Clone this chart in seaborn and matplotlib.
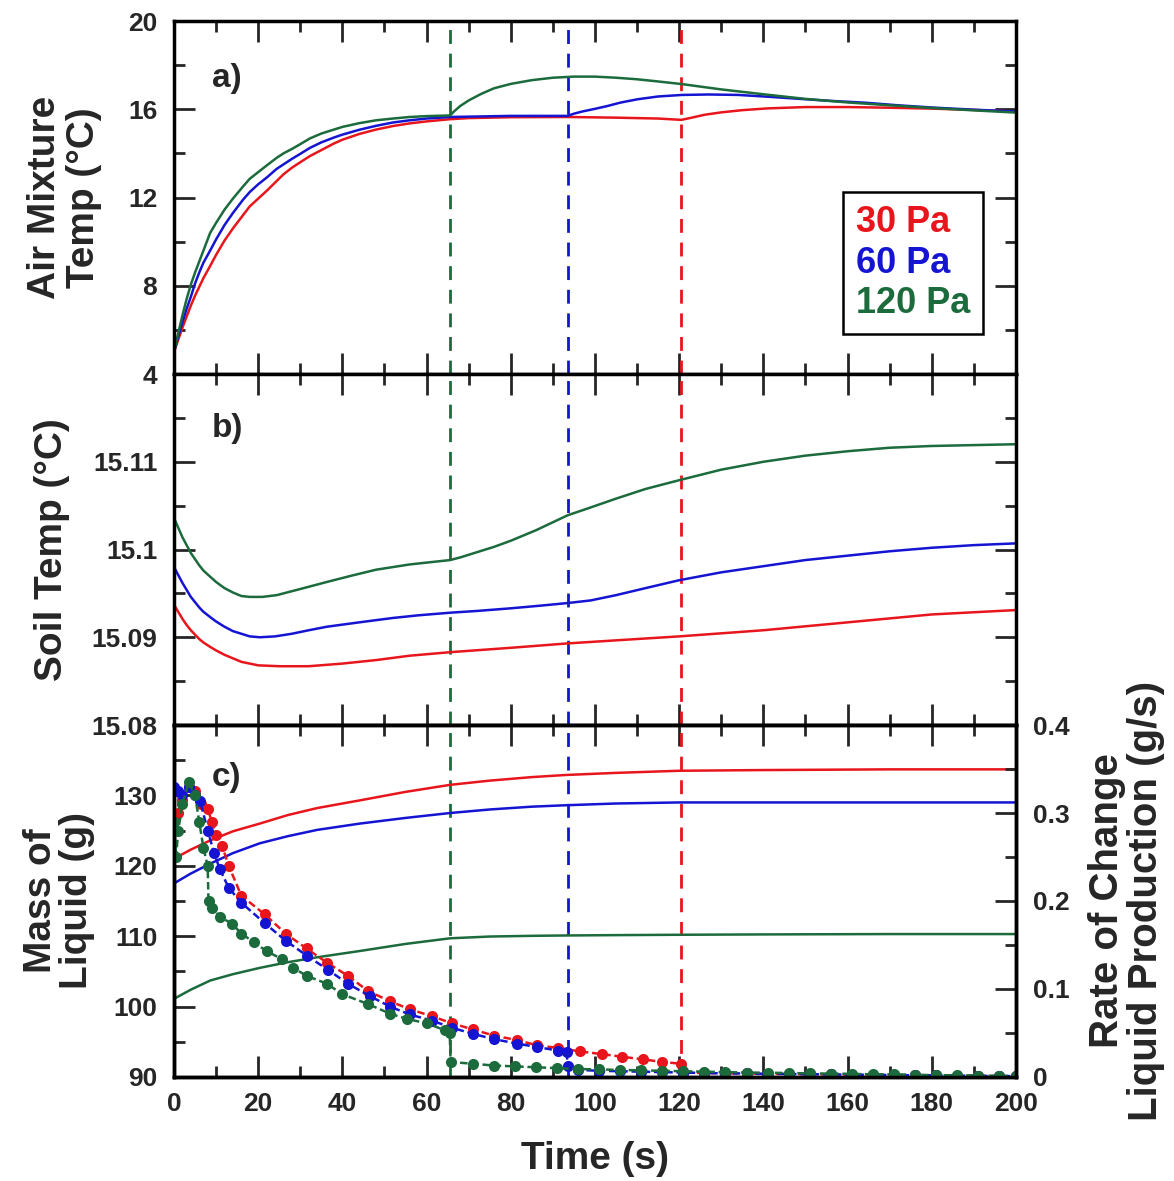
import numpy as np
import pandas as pd
import seaborn as sns
import matplotlib.pyplot as plt
from matplotlib.ticker import MultipleLocator, FuncFormatter
from matplotlib.lines import Line2D

# ---- data ----
pressures = ["30 Pa", "60 Pa", "120 Pa"]
colors = ["#e8161c", "#1414d2", "#1b6b3c"]
switch_times = [120.5, 93.5, 65.6]  # dashed markers for each run

# a) air mixture temperature
t_air_30 = [0, 1, 2, 3, 4, 5, 6, 7, 8.6, 10, 12, 14, 16.4, 18, 20, 22, 24.4, 26, 28, 30, 32.3, 35,
            38, 40, 44, 48, 52, 56, 60, 65.6, 70, 80, 93.5, 105, 115, 120.5, 123, 126, 130, 135,
            141, 150, 160, 170, 180, 190, 200]
air_30 = [5.0, 5.55, 6.1, 6.6, 7.1, 7.55, 7.95, 8.35, 8.9, 9.4, 10.05, 10.6, 11.2, 11.6, 11.95,
          12.3, 12.75, 13.05, 13.35, 13.6, 13.88, 14.15, 14.45, 14.62, 14.88, 15.08, 15.24, 15.36,
          15.45, 15.55, 15.6, 15.64, 15.65, 15.62, 15.58, 15.52, 15.62, 15.75, 15.86, 15.96,
          16.04, 16.1, 16.1, 16.07, 16.03, 15.97, 15.9]
t_air_60 = [0, 1, 2, 3, 4, 5, 6, 7, 8.6, 10, 12, 14, 16.4, 18, 20, 22, 24.4, 26, 28, 30, 32.3, 35,
            38, 40, 44, 48, 52, 56, 60, 65.6, 80, 93.5, 95, 97, 100, 103, 106, 110, 115, 120.7,
            127, 134, 141, 148, 156, 164, 172, 180, 190, 200]
air_60 = [5.0, 5.7, 6.35, 6.95, 7.5, 8.1, 8.6, 9.05, 9.6, 10.1, 10.75, 11.3, 11.9, 12.25, 12.6,
          12.9, 13.3, 13.5, 13.75, 13.98, 14.25, 14.5, 14.72, 14.85, 15.07, 15.25, 15.4, 15.5,
          15.58, 15.65, 15.7, 15.7, 15.8, 15.9, 16.02, 16.15, 16.3, 16.45, 16.58, 16.65, 16.67,
          16.65, 16.57, 16.48, 16.38, 16.3, 16.18, 16.08, 15.98, 15.9]
t_air_120 = [0, 1, 2, 3, 4, 5, 6, 7, 8.6, 10, 12, 14, 16.4, 18, 20, 22, 24.4, 26, 28, 30, 32.3, 35,
             38, 40, 44, 48, 52, 56, 60, 65.6, 66.5, 68, 70, 73, 76, 80, 85, 90, 95, 100, 105,
             110, 115, 120.7, 130, 140, 150, 160, 170, 180, 190, 200]
air_120 = [5.0, 5.85, 6.65, 7.4, 8.05, 8.6, 9.1, 9.6, 10.4, 10.85, 11.45, 11.95, 12.5, 12.85,
           13.15, 13.45, 13.8, 14.0, 14.2, 14.42, 14.68, 14.9, 15.08, 15.2, 15.37, 15.5, 15.58,
           15.65, 15.69, 15.72, 15.9, 16.15, 16.4, 16.7, 16.95, 17.15, 17.32, 17.43, 17.48,
           17.48, 17.43, 17.36, 17.26, 17.14, 16.9, 16.68, 16.47, 16.31, 16.18, 16.06, 15.95,
           15.85]

# b) soil temperature
t_soil_30 = [0, 1, 2, 3, 4, 5, 6, 7, 8.6, 10, 12, 14, 16, 18, 20, 25, 32, 40, 48, 56, 65.6, 80,
             93.5, 110, 120, 140, 160, 180, 200]
soil_30 = [15.0937, 15.0929, 15.0921, 15.0914, 15.0908, 15.0903, 15.0898, 15.0894, 15.0889,
           15.0885, 15.0880, 15.0876, 15.0872, 15.0870, 15.0868, 15.0867, 15.0867, 15.0870,
           15.0874, 15.0879, 15.0883, 15.0888, 15.0893, 15.0898, 15.0901, 15.0908, 15.0917,
           15.0926, 15.0931]
t_soil_60 = [0, 1, 2, 3, 4, 5, 6, 7, 8.6, 10, 12, 14, 16, 18, 20.4, 24, 28, 32, 36.3, 44, 52, 58,
             65.6, 72, 80, 87, 93.5, 99, 105, 112, 120, 130, 140, 150, 160, 170, 180, 190, 200]
soil_60 = [15.0980, 15.0971, 15.0962, 15.0954, 15.0946, 15.0940, 15.0934, 15.0929, 15.0923,
           15.0918, 15.0912, 15.0907, 15.0904, 15.0901, 15.0900, 15.0901, 15.0904, 15.0908,
           15.0912, 15.0917, 15.0922, 15.0925, 15.0928, 15.0930, 15.0933, 15.0936, 15.0939,
           15.0942, 15.0948, 15.0956, 15.0965, 15.0974, 15.0981, 15.0988, 15.0993, 15.0998,
           15.1002, 15.1005, 15.1007]
t_soil_120 = [0, 1, 2, 3, 4, 5, 6, 7, 8.6, 10, 12, 14, 16, 18, 21, 24.4, 30, 36.3, 42, 48, 56,
              65.6, 68, 72, 76, 80, 86, 93.5, 99, 105, 112, 120, 130, 140, 150, 160, 170, 180,
              190, 200]
soil_120 = [15.1036, 15.1025, 15.1014, 15.1005, 15.0996, 15.0989, 15.0982, 15.0976, 15.0969,
            15.0963, 15.0956, 15.0951, 15.0947, 15.0946, 15.0946, 15.0948, 15.0955, 15.0963,
            15.0970, 15.0977, 15.0983, 15.0988, 15.0991, 15.0997, 15.1003, 15.1010, 15.1022,
            15.1039, 15.1048, 15.1058, 15.1069, 15.1079, 15.1091, 15.1100, 15.1107, 15.1112,
            15.1116, 15.1118, 15.1119, 15.1120]

# c) mass of liquid (left axis)
t_mass = [0, 4, 8.6, 14, 20.4, 27, 34, 44.2, 55, 65.6, 75, 85, 93, 105, 120, 140, 170, 200]
mass_30 = [121.0, 122.3, 123.6, 124.9, 126.0, 127.2, 128.2, 129.3, 130.5, 131.5, 132.1, 132.6,
           132.9, 133.2, 133.5, 133.6, 133.7, 133.7]
mass_60 = [117.5, 118.9, 120.3, 121.8, 123.2, 124.2, 125.1, 126.0, 126.8, 127.5, 128.0, 128.4,
           128.6, 128.85, 129.0, 129.0, 129.0, 129.0]
mass_120 = [101.1, 102.4, 103.7, 104.6, 105.5, 106.3, 107.0, 107.9, 108.9, 109.7, 109.95, 110.05,
            110.1, 110.15, 110.2, 110.25, 110.3, 110.3]

# c) rate of liquid production (right axis)
t_rate_30 = [0, 1, 2, 3.5, 5, 6.5, 8, 9, 10, 11.4, 13, 16, 21.5, 26.5, 31.5, 36.3, 41.3, 46, 51.3,
             56, 61.3, 66, 71, 76, 81.4, 86.2, 91.2, 96.4, 101.6, 106.4, 111.4, 116, 120.5, 121,
             126, 131, 136, 141, 146, 151, 156, 161, 166, 171, 176, 181, 186, 191, 196, 200]
rate_30 = [0.28, 0.30, 0.315, 0.33, 0.325, 0.31, 0.305, 0.29, 0.275, 0.263, 0.24, 0.206, 0.185,
           0.163, 0.146, 0.130, 0.115, 0.098, 0.086, 0.077, 0.069, 0.061, 0.054, 0.047, 0.042,
           0.036, 0.033, 0.029, 0.026, 0.023, 0.020, 0.017, 0.015, 0.005, 0.0045, 0.004, 0.004,
           0.0035, 0.0035, 0.003, 0.003, 0.0025, 0.0025, 0.002, 0.002, 0.0018, 0.0015, 0.0012,
           0.001, 0.001]
t_rate_60 = [0, 1, 2, 3.5, 5, 6.2, 8, 9.5, 10.9, 13, 16, 21.5, 26.5, 31.5, 36.5, 41.3, 46.5, 51.3,
             56, 61.3, 66, 71, 76, 81.4, 86.2, 91.2, 93.3, 93.5, 96, 101, 106, 111, 116, 121, 126,
             131, 136, 141, 146, 151, 156, 161, 166, 171, 176, 181, 186, 191, 196, 200]
rate_60 = [0.33, 0.325, 0.32, 0.33, 0.32, 0.314, 0.28, 0.255, 0.236, 0.215, 0.198, 0.175, 0.155,
           0.138, 0.122, 0.106, 0.092, 0.080, 0.071, 0.064, 0.056, 0.049, 0.043, 0.038, 0.034,
           0.030, 0.028, 0.012, 0.008, 0.007, 0.0065, 0.006, 0.0055, 0.005, 0.0045, 0.004, 0.004,
           0.0035, 0.0035, 0.003, 0.003, 0.0025, 0.0025, 0.002, 0.002, 0.0018, 0.0015, 0.0012,
           0.001, 0.001]
t_rate_120 = [0, 0.5, 1, 2, 3.5, 5, 6, 7, 8, 8.2, 9, 11, 13.8, 16, 19, 22, 25.6, 28.3, 31.5, 36.3,
              40, 46, 51.3, 55.3, 60, 64.4, 65.5, 65.7, 71, 76, 81, 86, 91, 96, 101, 106, 111, 116,
              121, 126, 131, 136, 141, 146, 151, 156, 161, 166, 171, 176, 181, 186, 191, 196, 200]
rate_120 = [0.29, 0.25, 0.28, 0.31, 0.335, 0.32, 0.29, 0.26, 0.24, 0.20, 0.192, 0.182, 0.174,
            0.163, 0.153, 0.143, 0.134, 0.124, 0.115, 0.106, 0.094, 0.083, 0.072, 0.066, 0.061,
            0.053, 0.050, 0.017, 0.015, 0.013, 0.012, 0.011, 0.010, 0.009, 0.0085, 0.008, 0.0075,
            0.007, 0.0065, 0.006, 0.0055, 0.005, 0.0048, 0.0045, 0.004, 0.0038, 0.0035, 0.003,
            0.003, 0.0025, 0.002, 0.002, 0.0015, 0.0012, 0.001]

# ---- figure ----
sns.set_style("ticks")
plt.rcParams['font.family'] = ['Liberation Sans', 'DejaVu Sans']
plt.rcParams['font.weight'] = 'bold'
plt.rcParams['axes.labelweight'] = 'bold'

fig = plt.figure(figsize=(11.74, 11.81), dpi=100)
L, W = 0.1482, 0.7172
ax_a = fig.add_axes([L, 0.6833, W, 0.2989])
ax_b = fig.add_axes([L, 0.3861, W, 0.2972])
ax_c = fig.add_axes([L, 0.0881, W, 0.2980])
ax_r = ax_c.twinx()


def line(ax, t, v, col, **kw):
    sns.lineplot(x=t, y=v, ax=ax, color=col, linewidth=1.8, estimator=None,
                 sort=False, legend=False, **kw)


for t, v, c in zip([t_air_30, t_air_60, t_air_120], [air_30, air_60, air_120], colors):
    line(ax_a, t, v, c)
for t, v, c in zip([t_soil_30, t_soil_60, t_soil_120], [soil_30, soil_60, soil_120], colors):
    line(ax_b, t, v, c)
for v, c in zip([mass_30, mass_60, mass_120], colors):
    line(ax_c, t_mass, v, c)
for t, v, c in zip([t_rate_30, t_rate_60, t_rate_120], [rate_30, rate_60, rate_120], colors):
    line(ax_r, t, v, c, linestyle=(0, (3, 1.5)), marker='o', markersize=8,
         markeredgewidth=0)

for ax in (ax_a, ax_b, ax_c):
    for x, c in zip(switch_times, colors):
        ax.axvline(x, color=c, lw=2, ls=(0, (5, 3.5)), zorder=1)


def style(ax, left=True, right=True):
    ax.set_xlim(0, 200)
    ax.xaxis.set_major_locator(MultipleLocator(20))
    ax.xaxis.set_minor_locator(MultipleLocator(10))
    ax.tick_params(which='both', direction='in', top=True, bottom=True, left=left,
                   right=right, width=2, labelsize=19)
    ax.tick_params(axis='y', pad=12)
    ax.tick_params(axis='x', pad=11)
    ax.tick_params(which='major', length=15)
    ax.tick_params(which='minor', length=8)
    for s in ax.spines.values():
        s.set_linewidth(2.5)
        s.set_color('black')
    ax.set_xlabel('')


style(ax_a)
style(ax_b)
style(ax_c, right=False)
style(ax_r, left=False)

ax_a.set_ylim(4, 20)
ax_a.yaxis.set_major_locator(MultipleLocator(4))
ax_a.yaxis.set_minor_locator(MultipleLocator(2))
ax_b.set_ylim(15.08, 15.12)
ax_b.yaxis.set_major_locator(MultipleLocator(0.01))
ax_b.yaxis.set_minor_locator(MultipleLocator(0.005))
ax_b.yaxis.set_major_formatter(FuncFormatter(lambda v, p: '' if v > 15.115 else '%g' % round(v, 3)))
ax_c.set_ylim(90, 140)
ax_c.yaxis.set_major_locator(MultipleLocator(10))
ax_c.yaxis.set_minor_locator(MultipleLocator(5))
ax_c.yaxis.set_major_formatter(FuncFormatter(lambda v, p: '' if v > 135 else '%g' % v))
ax_r.set_ylim(0, 0.4)
ax_r.yaxis.set_major_locator(MultipleLocator(0.1))
ax_r.yaxis.set_minor_locator(MultipleLocator(0.05))
ax_r.yaxis.set_major_formatter(FuncFormatter(lambda v, p: '%g' % round(v, 2)))

for ax in (ax_a, ax_b):
    ax.tick_params(labelbottom=False)
ax_c.set_xlabel('Time (s)', fontsize=28, fontweight='bold', labelpad=18)

lab = dict(fontsize=28, fontweight='bold', linespacing=1.1)
ax_a.set_ylabel('Air Mixture\nTemp (°C)', **lab)
ax_a.yaxis.set_label_coords(-0.086, 0.5)
ax_b.set_ylabel('Soil Temp (°C)', **lab)
ax_b.yaxis.set_label_coords(-0.124, 0.5)
ax_c.set_ylabel('Mass of\nLiquid (g)', fontsize=28, fontweight='bold', linespacing=1.0)
ax_c.yaxis.set_label_coords(-0.094, 0.5)
ax_r.set_ylabel('Rate of Change\nLiquid Production (g/s)', fontsize=29, fontweight='bold',
                linespacing=1.05)
ax_r.yaxis.set_label_coords(1.085, 0.5)

for ax, s, y in zip((ax_a, ax_b, ax_c), ('a)', 'b)', 'c)'), (0.838, 0.846, 0.85)):
    ax.text(0.045, y, s, transform=ax.transAxes, fontsize=24, fontweight='bold',
            va='center', ha='left')

handles = [Line2D([], [], color=c, lw=0) for c in colors]
leg = ax_a.legend(handles, pressures, loc='upper right', bbox_to_anchor=(0.961, 0.516),
                  handlelength=0, handletextpad=0, fancybox=False, framealpha=1,
                  edgecolor='black', prop={'size': 26, 'weight': 'bold'},
                  labelspacing=0.16, borderpad=0.36, borderaxespad=0)
leg.get_frame().set_linewidth(1.8)
for txt, c in zip(leg.get_texts(), colors):
    txt.set_color(c)

fig.savefig('out.png', dpi=100)
